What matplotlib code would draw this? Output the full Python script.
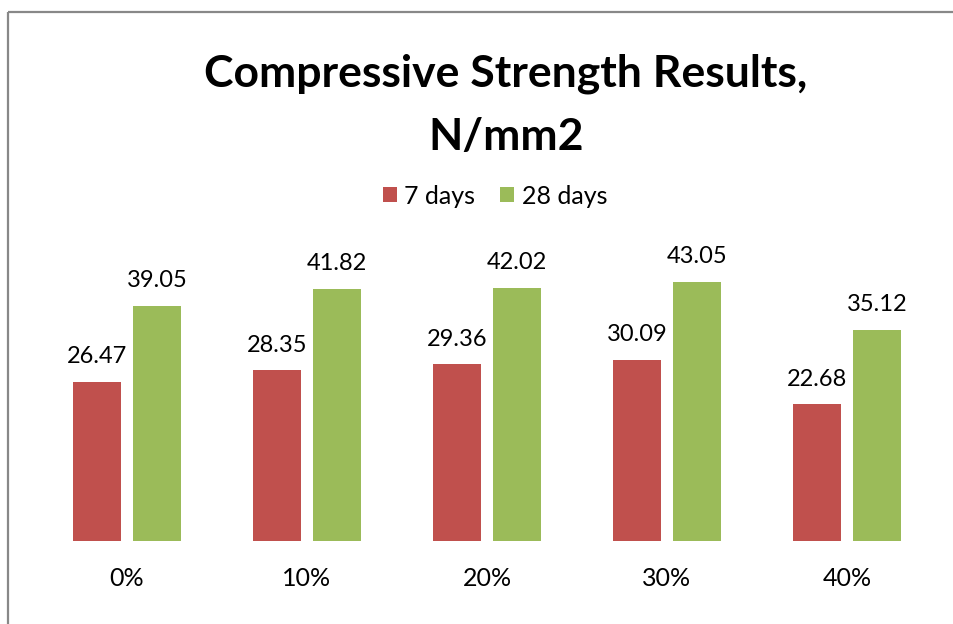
import numpy as np
import matplotlib.pyplot as plt
from matplotlib.lines import Line2D

# ---------- data ----------
categories = ["0%", "10%", "20%", "30%", "40%"]
days_7 = [26.47, 28.35, 29.36, 30.09, 22.68]
days_28 = [39.05, 41.82, 42.02, 43.05, 35.12]

RED = "#C0504D"
GREEN = "#9BBB59"
W, H = 954, 624

plt.rcParams["font.family"] = ["Lato", "DejaVu Sans"]

fig = plt.figure(figsize=(W / 100, H / 100), dpi=100)
ax = fig.add_axes([37 / W, (H - 541) / H, 900 / W, 301 / H])

x = np.arange(len(categories))
bw = 48 / 180
off = 30 / 180
b1 = ax.bar(x - off, days_7, bw, color=RED, label="7 days")
b2 = ax.bar(x + off, days_28, bw, color=GREEN, label="28 days")

for bars, vals in ((b1, days_7), (b2, days_28)):
    for b, v in zip(bars, vals):
        ax.annotate(f"{v:.2f}", (b.get_x() + b.get_width() / 2, v),
                    xytext=(0, 13.5), textcoords="offset points",
                    ha="center", va="baseline", fontsize=17)

ax.set_xlim(-0.5, len(categories) - 0.5)
ax.set_ylim(0, 50)
ax.set_xticks(x)
ax.set_xticklabels(categories, fontsize=18)
ax.tick_params(axis="x", length=0, pad=19)
ax.set_yticks([])
for s in ax.spines.values():
    s.set_visible(False)

fig.text(506 / W, 1 - 87 / H, "Compressive Strength Results,",
         ha="center", va="baseline", fontsize=32, fontweight="bold")
fig.text(506 / W, 1 - 150 / H, "N/mm2",
         ha="center", va="baseline", fontsize=32, fontweight="bold")
fig.legend(handles=[b1, b2], loc="center", bbox_to_anchor=(495 / W, 1 - 196 / H),
           ncol=2, frameon=False, fontsize=18, handlelength=0.55,
           handleheight=0.55, handletextpad=0.3, columnspacing=1.0)

# chart frame (left and top edges visible)
fig.add_artist(Line2D([8 / W, 8 / W], [0, 1 - 12 / H], color="#888888", lw=1.6,
                      solid_capstyle="butt", transform=fig.transFigure))
fig.add_artist(Line2D([8 / W, 1.01], [1 - 12 / H, 1 - 12 / H], color="#888888", lw=1.6,
                      solid_capstyle="butt", transform=fig.transFigure))

fig.savefig("out.png", dpi=100)
